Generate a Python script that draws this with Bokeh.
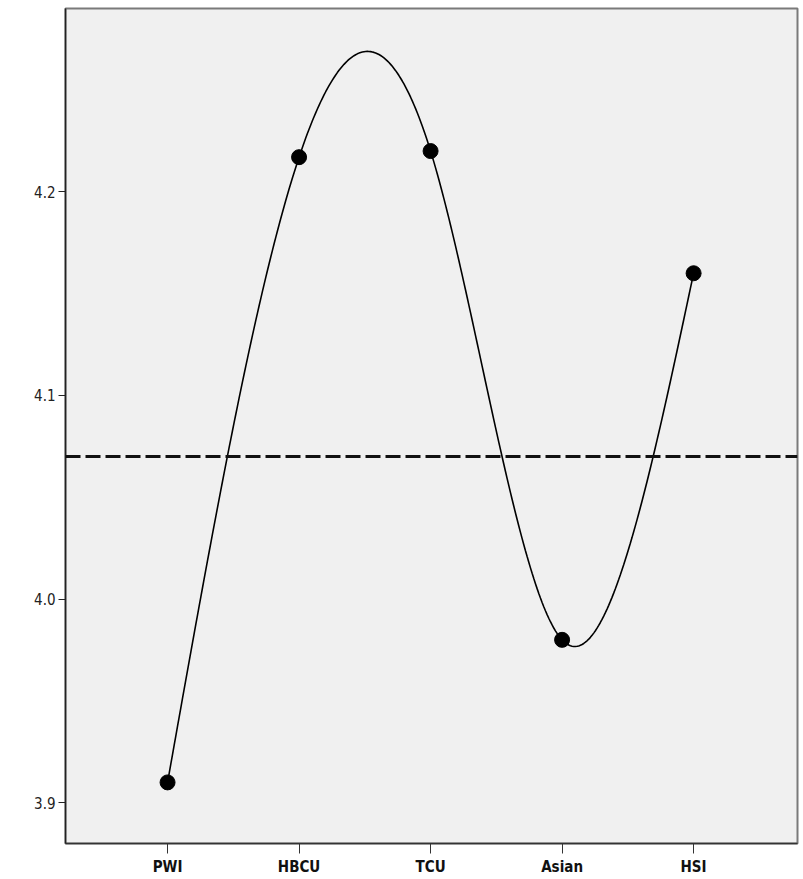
import numpy as np
from bokeh.plotting import figure
from bokeh.models import FixedTicker, Span, Range1d, PrintfTickFormatter
from bokeh.embed import file_html
from bokeh.resources import INLINE

categories = ["PWI", "HBCU", "TCU", "Asian", "HSI"]
means = [3.91, 4.217, 4.22, 3.98, 4.16]
reference_mean = 4.07
y_ticks = [3.9, 4.0, 4.1, 4.2]

# natural cubic spline through the category means (as SPSS draws it)
xs = np.arange(1, len(categories) + 1, dtype=float)
ys = np.array(means)
n = len(xs)
h = np.diff(xs)
A = np.zeros((n, n))
b = np.zeros(n)
A[0, 0] = 1
A[-1, -1] = 1
for i in range(1, n - 1):
    A[i, i - 1] = h[i - 1]
    A[i, i] = 2 * (h[i - 1] + h[i])
    A[i, i + 1] = h[i]
    b[i] = 6 * ((ys[i + 1] - ys[i]) / h[i] - (ys[i] - ys[i - 1]) / h[i - 1])
M = np.linalg.solve(A, b)
cx, cy = [], []
for i in range(n - 1):
    t = np.linspace(xs[i], xs[i + 1], 80)
    a = xs[i + 1] - t
    c = t - xs[i]
    hi = h[i]
    s = (M[i] * a**3 / (6 * hi) + M[i + 1] * c**3 / (6 * hi)
         + (ys[i] / hi - M[i] * hi / 6) * a + (ys[i + 1] / hi - M[i + 1] * hi / 6) * c)
    cx.extend(t.tolist())
    cy.extend(s.tolist())

FONT = "'DejaVu Sans Condensed', 'Liberation Sans', sans-serif"

p = figure(width=800, height=878, output_backend="svg", toolbar_location=None,
           x_range=Range1d(0.224, 5.79), y_range=Range1d(3.880, 4.290),
           min_border_left=65, min_border_right=3, min_border_top=8, min_border_bottom=33)

p.background_fill_color = "#f0f0f0"
p.border_fill_color = "white"
p.outline_line_color = "#7a7a7a"
p.outline_line_width = 2
p.xgrid.visible = False
p.ygrid.visible = False

p.line(cx, cy, line_color="black", line_width=1.6)
p.scatter(xs, ys, size=15, color="black")

p.add_layout(Span(location=reference_mean, dimension="width", line_color="#111111",
                  line_width=3, line_dash="15 5"))

p.xaxis.ticker = FixedTicker(ticks=xs.tolist())
p.xaxis.major_label_overrides = {float(x): c for x, c in zip(xs, categories)}
p.xaxis.major_label_overrides.update({int(x): c for x, c in zip(xs, categories)})
p.xaxis.minor_tick_line_color = None
p.xaxis.major_tick_in = 0
p.xaxis.major_tick_out = 10
p.xaxis.major_tick_line_color = "#333333"
p.xaxis.axis_line_color = "#333333"
p.xaxis.axis_line_width = 1.5
p.xaxis.major_label_standoff = 4
p.xaxis.major_label_text_font = FONT
p.xaxis.major_label_text_font_style = "bold"
p.xaxis.major_label_text_font_size = "15px"
p.xaxis.major_label_text_color = "#111111"

p.yaxis.ticker = FixedTicker(ticks=y_ticks)
p.yaxis.formatter = PrintfTickFormatter(format="%.1f")
p.yaxis.minor_tick_line_color = None
p.yaxis.major_tick_in = 0
p.yaxis.major_tick_out = 7
p.yaxis.major_tick_line_color = "#222222"
p.yaxis.axis_line_color = "#222222"
p.yaxis.axis_line_width = 1.5
p.yaxis.major_label_standoff = 3
p.yaxis.major_label_text_font = FONT
p.yaxis.major_label_text_font_size = "15px"
p.yaxis.major_label_text_color = "#222222"

open("out.html", "w").write(file_html(p, INLINE))
